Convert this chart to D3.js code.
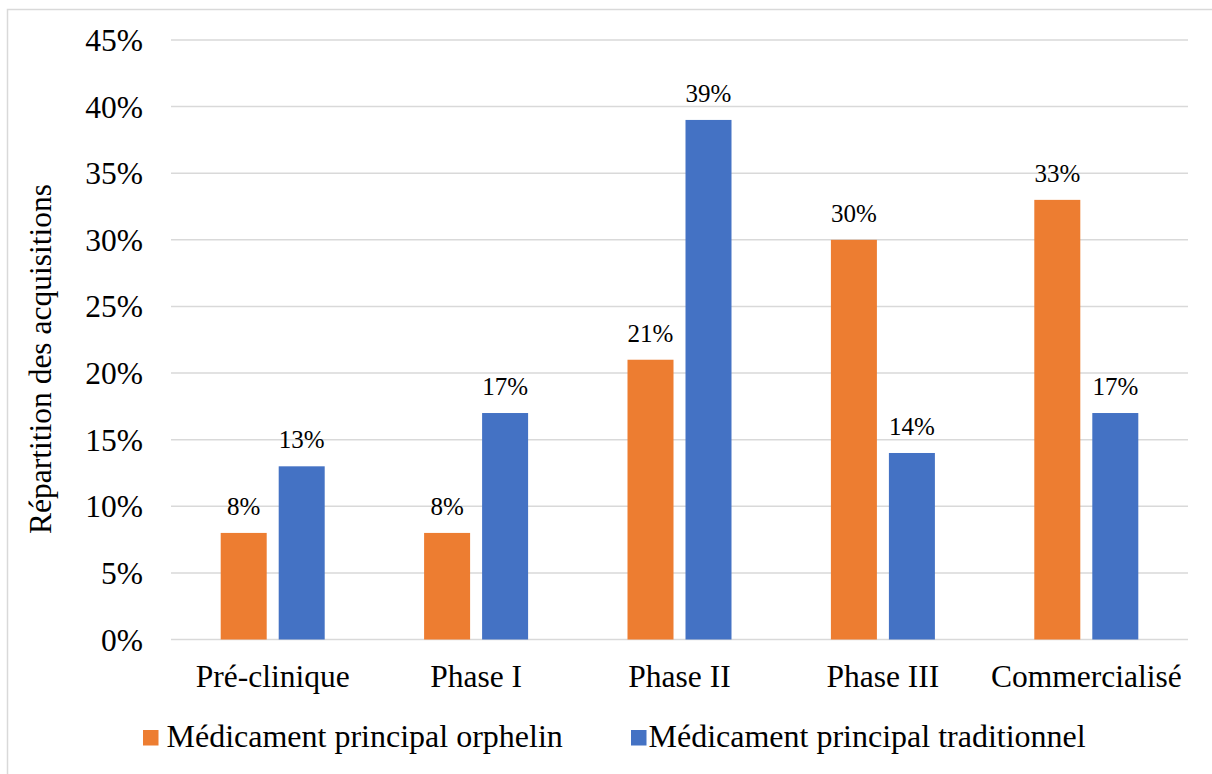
<!DOCTYPE html>
<html><head><meta charset="utf-8">
<script src="https://cdn.jsdelivr.net/npm/d3@7"></script>
<style>body{margin:0;background:#fff}svg{display:block}</style>
</head><body>
<svg id="c" width="1212" height="774" font-family="'Liberation Serif', 'Times New Roman', Times, 'DejaVu Serif', serif"></svg>
<script>
const categories = ["Pré-clinique","Phase I","Phase II","Phase III","Commercialisé"];
const seriesNames = ["Médicament principal orphelin","Médicament principal traditionnel"];
const orphelin = [8,8,21,30,33];
const traditionnel = [13,17,39,14,17];
const yTicks = [0,5,10,15,20,25,30,35,40,45];
const colors = ["#ED7D31","#4472C4"];
const values = [orphelin, traditionnel];

const svg = d3.select("#c");
svg.append("rect").attr("x",7.5).attr("y",9.5).attr("width",1300).attr("height",900)
  .attr("fill","none").attr("stroke","#D9D9D9").attr("stroke-width",1.5);

const x0 = d3.scaleBand().domain(categories).range([171,1188]);
const y = d3.scaleLinear().domain([0,45]).range([639.5,40]);
const groupW = 104;
const x1 = d3.scaleBand().domain([0,1]).range([x0.bandwidth()/2-groupW/2, x0.bandwidth()/2+groupW/2]).paddingInner(12/58);

svg.append("g").selectAll("line").data(yTicks).join("line")
  .attr("x1",171).attr("x2",1188)
  .attr("y1",d=>y(d)).attr("y2",d=>y(d))
  .attr("stroke","#D9D9D9").attr("stroke-width",1.5);

svg.append("g").selectAll("text").data(yTicks).join("text")
  .attr("x",143).attr("y",d=>y(d)).attr("dy","0.35em")
  .attr("text-anchor","end").attr("font-size",31.5)
  .text(d=>d+"%");

const g = svg.append("g");
categories.forEach((c,i)=>{
  [0,1].forEach(s=>{
    const v = values[s][i];
    g.append("rect").attr("x",x0(c)+x1(s)).attr("width",x1.bandwidth())
      .attr("y",y(v)).attr("height",y(0)-y(v)).attr("fill",colors[s]);
    g.append("text").attr("x",x0(c)+x1(s)+x1.bandwidth()/2).attr("y",y(v)-18)
      .attr("text-anchor","middle").attr("font-size",25).text(v+"%");
  });
});

svg.append("g").selectAll("text").data(categories).join("text")
  .attr("x",d=>x0(d)+x0.bandwidth()/2).attr("y",687)
  .attr("text-anchor","middle").attr("font-size",31.5).text(d=>d);

svg.append("text").attr("transform","translate(51,359) rotate(-90)")
  .attr("text-anchor","middle").attr("font-size",31.5).text("Répartition des acquisitions");

const legSq = [143,631];
const legTx = [166.5,648.5];
seriesNames.forEach((n,s)=>{
  svg.append("rect").attr("x",legSq[s]).attr("y",730).attr("width",15.5).attr("height",15.5).attr("fill",colors[s]);
  svg.append("text").attr("x",legTx[s]).attr("y",747).attr("font-size",32).text(n);
});
</script>
</body></html>
